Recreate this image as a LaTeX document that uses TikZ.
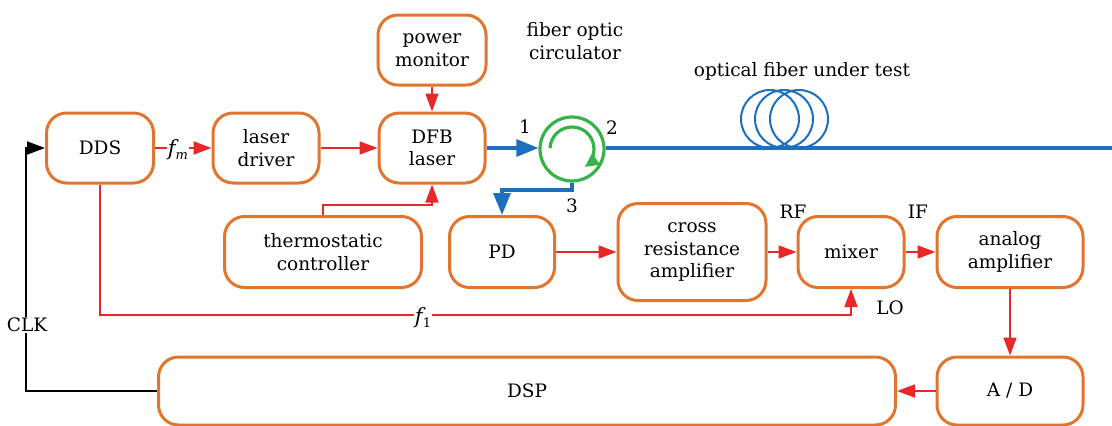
\documentclass[tikz,border=0pt]{standalone}
\usepackage{fontspec}
\setmainfont{DejaVu Serif}
\usetikzlibrary{arrows.meta,calc}
\definecolor{boxor}{RGB}{226,117,45}
\definecolor{lred}{RGB}{232,40,40}
\definecolor{lblue}{RGB}{30,110,190}
\definecolor{lgreen}{RGB}{55,178,72}
\newcommand{\fsym}[1]{{\fontsize{21}{22}\selectfont\itshape f}\raisebox{-4pt}{\fontsize{13}{13}\selectfont #1}}
\tikzset{
  blk/.style={draw=boxor,line width=3pt,rounded corners=20pt,fill=white,align=center,inner sep=0pt,font=\fontsize{18.5}{22.5}\selectfont},
  sig/.style={draw=lred,line width=1.8pt,-{Triangle[length=18pt,width=13pt]},color=lred},
  opt/.style={draw=lblue,line width=3.2pt},
  optarr/.style={opt,-{Triangle[length=22pt,width=17pt]}},
  lbl/.style={font=\fontsize{18.5}{22.5}\selectfont,align=center,inner sep=1pt},
  wlbl/.style={lbl,fill=white}
}
\begin{document}
\begin{tikzpicture}[x=1pt,y=-1pt]
\useasboundingbox (0,0) rectangle (1112,426);
% boxes
\node[blk,minimum width=107pt,minimum height=70pt] (dds) at (100,148) {DDS};
\node[blk,minimum width=106pt,minimum height=70pt] (ld) at (266,148) {laser\\driver};
\node[blk,minimum width=106pt,minimum height=70pt] (dfb) at (432,148) {DFB\\laser};
\node[blk,minimum width=108pt,minimum height=70pt] (pm) at (432,50) {power\\monitor};
\node[blk,minimum width=197pt,minimum height=71pt] (tc) at (323,252) {thermostatic\\controller};
\node[blk,minimum width=105pt,minimum height=71pt] (pd) at (502,252) {PD};
\node[blk,minimum width=148pt,minimum height=97pt] (cra) at (692,252) {cross\\resistance\\amplifier};
\node[blk,minimum width=106pt,minimum height=71pt] (mix) at (851,252) {mixer};
\node[blk,minimum width=146pt,minimum height=71pt] (aa) at (1010,252) {analog\\amplifier};
\node[blk,minimum width=146pt,minimum height=68pt] (ad) at (1010,391) {A / D};
\node[blk,minimum width=737pt,minimum height=68pt] (dsp) at (527,391) {DSP};
% circulator
\node[circle,draw=lgreen,line width=3.2pt,minimum size=64pt,inner sep=0pt] (circ) at (572,149) {};
\draw[lgreen,line width=3.2pt,-{Triangle[length=14pt,width=13pt]}] ($(circ.center)+(182:22)$) arc[start angle=182,end angle=415,radius=22];
% labels
\node[lbl] (fol) at (575,41) {fiber optic\\circulator};
\node[lbl] (oful) at (802,71) {optical fiber under test};
\node[lbl] (p1) at (525,127) {1};
\node[lbl] (p2) at (612,128) {2};
\node[lbl] (p3) at (572,206) {3};
\node[lbl] (rf) at (793,212) {RF};
\node[lbl] (if) at (918,212) {IF};
\node[lbl] (lo) at (890,308) {LO};
% optical paths
\coordinate (fend) at (1112,148);
\draw[optarr] (dfb.east) -- (circ.west |- dfb.east);
\draw[opt] (circ.east |- fend) -- (fend);
\coordinate (c3) at (572,190);
\draw[optarr] (circ.south) -- (c3) -| (pd.north);
\foreach \cx in {770,784,799} \draw[lblue,line width=2pt] (\cx,119) circle[radius=29];
% electrical
\draw[sig] (dds.east) -- (ld.west);
\node[wlbl] (fm) at (178,150) {\fsym{\itshape m}};
\draw[sig] (ld.east) -- (dfb.west);
\draw[sig] (pm.south) -- (dfb.north);
\draw[sig] (tc.north) -- ++(0,-10) -| (dfb.south);
\draw[sig] (pd.east) -- (cra.west);
\draw[sig] (cra.east) -- (mix.west);
\draw[sig] (mix.east) -- (aa.west);
\draw[sig] (aa.south) -- (ad.north);
\draw[sig] (ad.west) -- (dsp.east);
\coordinate (lo1) at (100,315);
\draw[sig] (dds.south) -- (lo1) -| (mix.south);
\node[wlbl] (f1) at (423,318) {\fsym{1}};
% clock
\coordinate (clkc) at (26,300);
\draw[black,line width=1.8pt,-{Triangle[length=18pt,width=13pt]}] (dsp.west) -| (clkc) |- (dds.west);
\node[wlbl] (clk) at (27,325) {CLK};
\end{tikzpicture}
\end{document}
